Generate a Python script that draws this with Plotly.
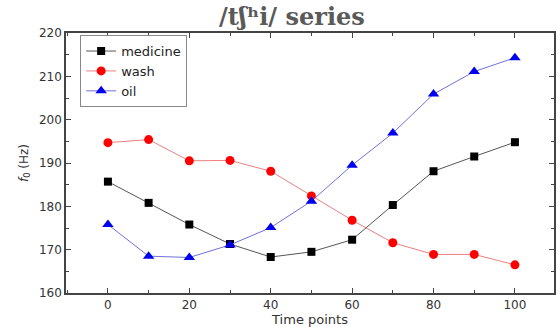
import plotly.graph_objects as go

# Time points and f0 contours (Hz) for the three words
time_points = [0, 10, 20, 30, 40, 50, 60, 70, 80, 90, 100]
medicine = [185.7, 180.8, 175.8, 171.3, 168.3, 169.5, 172.3, 180.3, 188.1, 191.5, 194.8]
wash = [194.7, 195.4, 190.5, 190.6, 188.1, 182.4, 176.8, 171.6, 168.9, 168.9, 166.5]
oil = [175.8, 168.5, 168.2, 171.1, 175.1, 181.2, 189.5, 196.9, 205.9, 211.1, 214.3]

x_ticks = [0, 20, 40, 60, 80, 100]
y_ticks = [160, 170, 180, 190, 200, 210, 220]

fig = go.Figure()
fig.add_trace(go.Scatter(
    x=time_points, y=medicine, name="medicine", mode="lines+markers",
    line=dict(color="#555555", width=1),
    marker=dict(symbol="square", size=8, color="#000000"),
))
fig.add_trace(go.Scatter(
    x=time_points, y=wash, name="wash", mode="lines+markers",
    line=dict(color="#ee8080", width=1),
    marker=dict(symbol="circle", size=9, color="#ff0000"),
))
fig.add_trace(go.Scatter(
    x=time_points, y=oil, name="oil", mode="lines+markers",
    line=dict(color="#7070dd", width=1),
    marker=dict(symbol="triangle-up", size=10, color="#0000ee"),
))

axis_common = dict(
    showgrid=False, zeroline=False, showline=True,
    linecolor="#444444", linewidth=1.5, mirror="ticks",
    ticks="inside", ticklen=5, tickwidth=1, tickcolor="#444444",
    tickfont=dict(family="DejaVu Sans", size=12, color="#333333"),
)

fig.update_xaxes(
    range=[-10.3, 109.6], tickvals=x_ticks,
    minor=dict(dtick=10, tick0=0, ticks="inside", ticklen=3, tickcolor="#444444"),
    title=dict(text="Time points", standoff=3,
               font=dict(family="DejaVu Sans", size=13, color="#333333")),
    **axis_common,
)
fig.update_yaxes(
    range=[160, 220], tickvals=y_ticks,
    minor=dict(dtick=5, tick0=160, ticks="inside", ticklen=3, tickcolor="#444444"),
    title=dict(text="<i>f</i><sub>0</sub> (Hz)", standoff=8,
               font=dict(family="DejaVu Sans", size=12, color="#333333")),
    **axis_common,
)

fig.update_layout(
    width=557, height=327,
    margin=dict(l=66, r=1, t=33, b=34),
    paper_bgcolor="white", plot_bgcolor="white",
    title=dict(
        text="<b>/tʃʰi/ series</b>", xref="container", x=0.524, xanchor="center",
        yref="container", y=0.95, yanchor="middle",
        font=dict(family="DejaVu Serif", size=24, color="#5a5a5a"),
    ),
    legend=dict(
        x=0.029, y=0.992, xanchor="left", yanchor="top",
        bgcolor="white", bordercolor="#888888", borderwidth=1,
        font=dict(family="DejaVu Sans", size=13, color="#222222"),
        tracegroupgap=0, itemwidth=30,
    ),
    showlegend=True,
)

fig.write_html("out.html")
